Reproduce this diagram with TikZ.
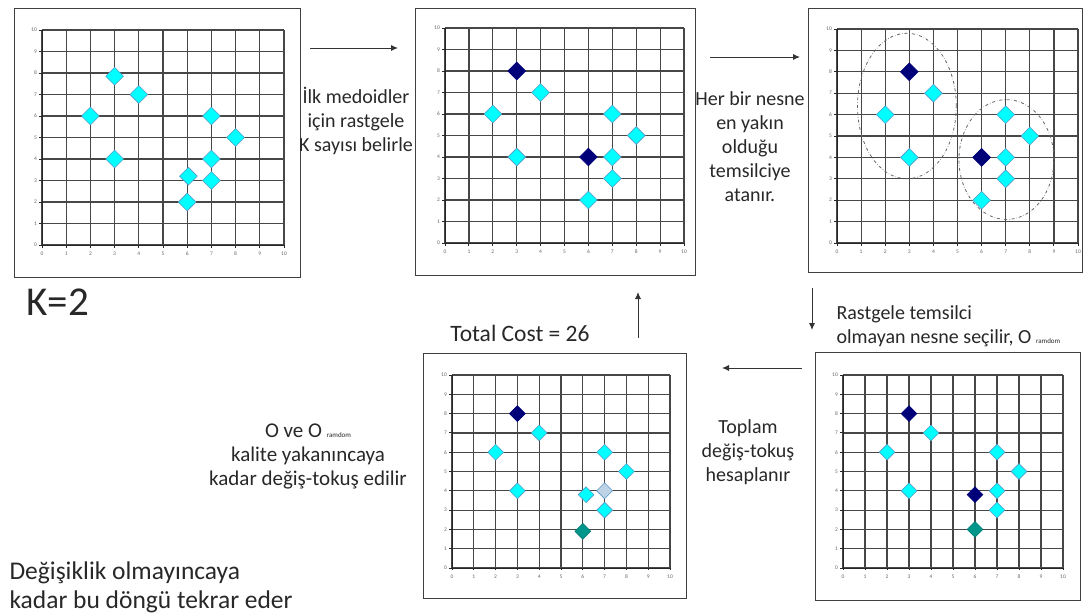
\documentclass[tikz,border=0pt]{standalone}
\usepackage{fontspec}
\setmainfont{Carlito}
\usetikzlibrary{shapes.geometric,arrows.meta}

\definecolor{objcyan}{RGB}{0,255,255}
\definecolor{objedge}{RGB}{90,150,200}
\definecolor{mednavy}{RGB}{0,0,120}
\definecolor{randteal}{RGB}{0,150,140}
\definecolor{oldblue}{RGB}{190,212,230}
\definecolor{txtgray}{RGB}{40,40,40}

\newcommand{\ornd}{{\fontsize{7}{8}\selectfont ramdom}}

\newcommand{\plotgrid}[1]{%
	\draw[gridline, step=1] (0,0) grid (10,10);
	\draw[axisline] (0,10) -- (0,0) -- (10,0);
	\foreach \i in {0,...,10}{
		\draw[axisline] (\i,0) -- ++(0,-0.12);
		\draw[axisline] (0,\i) -- ++(-0.12,0);
		\node[ticklbl, below=7pt] (#1-x\i) at (\i,0) {\i};
		\node[ticklbl, left=5pt] (#1-y\i) at (0,\i) {\i};
	}%
}

\begin{document}
\begin{tikzpicture}[x=1pt, y=-1pt]
		\tikzset{
			panel/.style={
				rectangle,
				draw=black!75,
				line width=1pt,
				inner sep=0
			},
			gridline/.style={
				black!72,
				line width=1.2pt
			},
			axisline/.style={
				black!85,
				line width=0.9pt
			},
			ticklbl/.style={
				font=\fontsize{5.5}{6}\selectfont,
				text=black!60,
				inner sep=0
			},
			obj/.style={
				diamond,
				draw=objedge,
				fill=objcyan,
				line width=0.6pt,
				minimum size=18pt,
				inner sep=0
			},
			medoid/.style={
				obj,
				draw=mednavy,
				fill=mednavy
			},
			orand/.style={
				obj,
				draw=randteal!80!black,
				fill=randteal
			},
			oldmed/.style={
				obj,
				fill=oldblue
			},
			note/.style={
				align=center,
				text=txtgray,
				font=\fontsize{20}{24}\selectfont
			},
			cluster/.style={
				black!60,
				dash dot,
				line width=0.8pt
			},
			line/.style={
				-{Latex[length=7pt, width=6pt]},
				line width=0.9pt,
				black!80
			}
		}

		\useasboundingbox (0,0) rectangle (1088,616);

		\node[panel, minimum width=286pt, minimum height=269pt] (p1) at (157,142.5) {};
		\node[panel, minimum width=280pt, minimum height=267pt] (p2) at (555,141.5) {};
		\node[panel, minimum width=274pt, minimum height=264pt] (p3) at (945,140) {};
		\node[panel, minimum width=263pt, minimum height=245pt] (p4) at (554.5,475.5) {};
		\node[panel, minimum width=265pt, minimum height=248pt] (p5) at (947.5,476) {};

		% all objects
		\begin{scope}[shift={(42,245)}, x=24.2pt, y=21.5pt]
			\plotgrid{g1}
			\foreach \px/\py [count=\n] in {3/7.85, 4/7, 2/6, 3/4, 7/6, 8/5, 7/4, 6.05/3.2, 7/3, 6/2}
				\node[obj] (d1-\n) at (\px,\py) {};
		\end{scope}

		% first medoids
		\begin{scope}[shift={(445,243)}, x=23.9pt, y=21.5pt]
			\plotgrid{g2}
			\foreach \px/\py [count=\n] in {4/7, 2/6, 3/4, 7/6, 8/5, 7/4, 7/3, 6/2}
				\node[obj] (d2-\n) at (\px,\py) {};
			\node[medoid] (m2-a) at (3,8) {};
			\node[medoid] (m2-b) at (6,4) {};
		\end{scope}

		% clusters
		\begin{scope}[shift={(837,243)}, x=24.1pt, y=21.4pt]
			\plotgrid{g3}
			\draw[cluster] (2.9,6.4) ellipse [x radius=2.05, y radius=3.4];
			\draw[cluster] (7.03,3.9) ellipse [x radius=1.97, y radius=2.8];
			\foreach \px/\py [count=\n] in {4/7, 2/6, 3/4, 7/6, 8/5, 7/4, 7/3, 6/2}
				\node[obj] (d3-\n) at (\px,\py) {};
			\node[medoid] (m3-a) at (3,8) {};
			\node[medoid] (m3-b) at (6,4) {};
		\end{scope}

		% random object
		\begin{scope}[shift={(843,568)}, x=22pt, y=19.3pt, obj/.append style={minimum size=16pt}]
			\plotgrid{g5}
			\foreach \px/\py [count=\n] in {4/7, 2/6, 3/4, 7/6, 8/5, 7/4, 7/3}
				\node[obj] (d5-\n) at (\px,\py) {};
			\node[medoid] (m5-a) at (3,8) {};
			\node[medoid] (m5-b) at (6,3.8) {};
			\node[orand] (r5) at (6,2) {};
		\end{scope}

		% swapped
		\begin{scope}[shift={(452,568)}, x=21.8pt, y=19.3pt, obj/.append style={minimum size=16pt}]
			\plotgrid{g4}
			\foreach \px/\py [count=\n] in {4/7, 2/6, 3/4, 7/6, 8/5, 6.15/3.8, 7/3}
				\node[obj] (d4-\n) at (\px,\py) {};
			\node[medoid] (m4-a) at (3,8) {};
			\node[oldmed] (o4) at (7,4) {};
			\node[orand] (r4) at (6,1.9) {};
		\end{scope}

		\node[anchor=west, text=txtgray, font=\fontsize{41}{46}\selectfont] (k) at (23,302) {K=2};

		\node[note] (init) at (356,121)
			{İlk medoidler\\ için rastgele\\ K sayısı belirle};
		\node[note] (assign) at (750,147)
			{Her bir nesne\\ en yakın\\ olduğu\\ temsilciye\\ atanır.};
		\node[note, align=left, anchor=west] (pick) at (833,326)
			{Rastgele temsilci\\ olmayan nesne seçilir, O \ornd};
		\node[note] (calc) at (748,452)
			{Toplam\\ değiş-tokuş\\ hesaplanır};
		\node[note, font=\fontsize{21}{24}\selectfont] (swap) at (308,456)
			{O ve O \ornd\\ kalite yakanıncaya\\ kadar değiş-tokuş edilir};
		\node[text=txtgray, font=\fontsize{23.5}{27}\selectfont] (cost) at (520,333)
			{Total Cost = 26};
		\node[text=txtgray, align=left, anchor=west, font=\fontsize{25.5}{29}\selectfont] (loop) at (6,587)
			{Değişiklik olmayıncaya\\ kadar bu döngü tekrar eder};

		\coordinate (a1s) at (310,48);
		\coordinate (a1e) at (398,48);
		\coordinate (a2s) at (710,57);
		\coordinate (a2e) at (800,57);
		\coordinate (a3s) at (812,288);
		\coordinate (a3e) at (812,330);
		\coordinate (a4s) at (802,368);
		\coordinate (a4e) at (722,368);
		\coordinate (a5s) at (638,338);
		\coordinate (a5e) at (638,292);

		\draw[line] (a1s) -- (a1e);
		\draw[line] (a2s) -- (a2e);
		\draw[line] (a3s) -- (a3e);
		\draw[line] (a4s) -- (a4e);
		\draw[line] (a5s) -- (a5e);

	\end{tikzpicture}
\end{document}
